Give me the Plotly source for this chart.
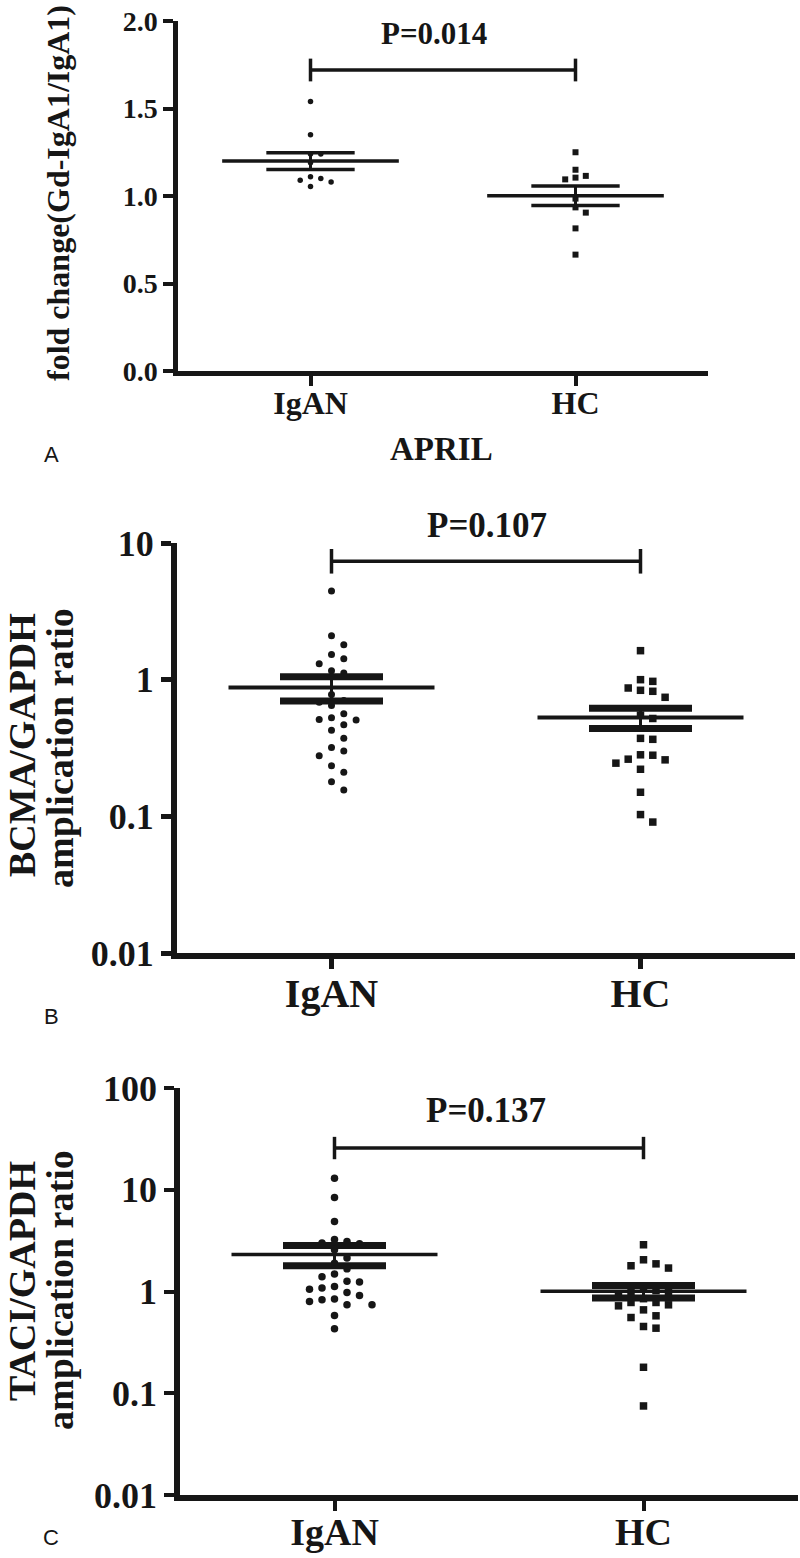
import numpy as np
import plotly.graph_objects as go

W, H = 800, 1558
groups = ["IgAN", "HC"]

# ---- data ----
a_igan = [1.54, 1.35, 1.24, 1.24, 1.19, 1.11, 1.09, 1.08, 1.055, 1.10]
a_hc = [1.25, 1.15, 1.115, 1.105, 1.095, 0.985, 0.935, 0.905, 0.815, 0.665]
b_igan = [4.46, 2.10, 1.80, 1.53, 1.42, 1.31, 1.16, 1.12, 0.778, 0.684, 0.647, 0.703,
          0.563, 0.512, 0.468, 0.506, 0.526, 0.426, 0.372, 0.319, 0.301, 0.277, 0.234,
          0.210, 0.179, 0.156]
b_hc = [1.63, 0.972, 1.0, 0.869, 0.822, 0.836, 0.743, 0.520, 0.55, 0.366, 0.372, 0.280,
        0.259, 0.282, 0.245, 0.262, 0.221, 0.150, 0.103, 0.0908]
c_igan = [13.0, 8.4, 4.88, 3.0, 2.95, 3.1, 3.25, 2.57, 2.13, 1.90, 1.67, 1.49, 1.40, 1.26,
          1.24, 1.12, 1.08, 1.05, 0.977, 0.914, 0.842, 0.798, 0.828, 0.74, 0.74, 0.581, 0.43]
c_hc = [2.88, 2.05, 1.79, 1.70, 1.87, 0.78, 0.723, 0.74, 0.78, 0.66, 0.555, 0.577, 0.436,
        0.453, 0.18, 0.075, 1.0, 1.02, 0.98, 0.85, 0.9, 1.1]

p_labels = ["P=0.014", "P=0.107", "P=0.137"]
bracket_levels = [1.72, 7.35, 25.7]
a_ticks = [0.0, 0.5, 1.0, 1.5, 2.0]
a_ticktext = ["0.0", "0.5", "1.0", "1.5", "2.0"]
b_ticks = [0.01, 0.1, 1, 10]
b_ticktext = ["0.01", "0.1", "1", "10"]
c_ticks = [0.01, 0.1, 1, 10, 100]
c_ticktext = ["0.01", "0.1", "1", "10", "100"]
y_titles = [["fold change(Gd-IgA1/IgA1)"],
            ["BCMA/GAPDH", "amplication ratio"],
            ["TACI/GAPDH", "amplication ratio"]]
panel_letters = ["A", "B", "C"]
x_title_a = "APRIL"

INK = "#161616"
SERIF = "Liberation Serif"

# ---- layout geometry (pixels) ----
panels = [
    dict(data=(a_igan, a_hc), log=False, yr=(0, 2), ticks=a_ticks, ticktext=a_ticktext,
         xpx=(178, 708), ypx=(21, 371), tickfs=28, catfs=32, axw=4.5, msize=(5.5, 6),
         meanw=3.5, semw=3.5, step=10.3, thr=7.5, brk=0.065, pfs=31, ppos=(434, 34),
         titlefs=32, titlepos=[(58, 193)], letter=(51, 455), xstand=-10),
    dict(data=(b_igan, b_hc), log=True, yr=(-2, 1), ticks=b_ticks, ticktext=b_ticktext,
         xpx=(177, 795), ypx=(543, 953), tickfs=36, catfs=40, axw=6, msize=(7, 7.5),
         meanw=4, semw=7, step=12.3, thr=9.5, brk=0.09, pfs=35, ppos=(487, 526),
         titlefs=38, titlepos=[(22, 745), (60, 748)], letter=(51, 1017), xstand=-10),
    dict(data=(c_igan, c_hc), log=True, yr=(-2, 2), ticks=c_ticks, ticktext=c_ticktext,
         xpx=(180, 798), ypx=(1088, 1495), tickfs=36, catfs=38, axw=5.5, msize=(7.5, 7.5),
         meanw=3.5, semw=7, step=12.5, thr=9.5, brk=0.11, pfs=35, ppos=(486, 1110),
         titlefs=38, titlepos=[(22, 1281), (60, 1290)], letter=(51, 1537), xstand=-11),
]


def swarm(vals, to_px, step, thr):
    order = sorted(range(len(vals)), key=lambda i: -vals[i])
    placed = []
    offs = [0.0] * len(vals)
    cands = [0]
    for j in range(1, 12):
        cands += [j, -j]
    for i in order:
        y = to_px(vals[i])
        for c in cands:
            if all(not (pc == c and abs(y - py) < thr) and
                   ((c - pc) * step) ** 2 + (y - py) ** 2 >= (thr * 0.95) ** 2
                   for pc, py in placed):
                break
        placed.append((c, y))
        offs[i] = c * step
    return offs


fig = go.Figure()
annotations = []

for k, p in enumerate(panels):
    sfx = "" if k == 0 else str(k + 1)
    xa, ya = "x" + sfx, "y" + sfx
    x0, x1 = p["xpx"]
    ytop, ybot = p["ypx"]
    ppu = (x1 - x0) / 2.0  # x range 0.5 .. 2.5
    r0, r1 = p["yr"]

    def to_px(v, r0=r0, r1=r1, ytop=ytop, ybot=ybot, lg=p["log"]):
        t = np.log10(v) if lg else v
        return ybot - (t - r0) / (r1 - r0) * (ybot - ytop)

    for g, vals in enumerate(p["data"]):
        c = g + 1
        offs = swarm(vals, to_px, p["step"], p["thr"])
        fig.add_trace(go.Scatter(
            x=[c + o / ppu for o in offs], y=vals, mode="markers", xaxis=xa, yaxis=ya,
            marker=dict(symbol="circle" if g == 0 else "square", size=p["msize"][g],
                        color=INK, line=dict(width=0)),
            showlegend=False, hoverinfo="y"))
    for g, vals in enumerate(p["data"]):
        c = g + 1
        m = float(np.mean(vals))
        s = float(np.std(vals, ddof=1) / np.sqrt(len(vals)))
        fig.add_trace(go.Scatter(x=[c - 1 / 3, c + 1 / 3], y=[m, m], mode="lines",
                                 xaxis=xa, yaxis=ya, line=dict(color=INK, width=p["meanw"]),
                                 showlegend=False, hoverinfo="skip"))
        fig.add_trace(go.Scatter(x=[c - 1 / 6, c + 1 / 6, None, c - 1 / 6, c + 1 / 6],
                                 y=[m + s, m + s, None, m - s, m - s], mode="lines",
                                 xaxis=xa, yaxis=ya, line=dict(color=INK, width=p["semw"]),
                                 showlegend=False, hoverinfo="skip"))
        fig.add_trace(go.Scatter(x=[c, c], y=[m - s, m + s], mode="lines",
                                 xaxis=xa, yaxis=ya, line=dict(color=INK, width=3),
                                 showlegend=False, hoverinfo="skip"))
    # significance bracket
    lv = bracket_levels[k]
    if p["log"]:
        lo, hi = lv / 10 ** p["brk"], lv * 10 ** p["brk"]
    else:
        lo, hi = lv - p["brk"], lv + p["brk"]
    fig.add_trace(go.Scatter(x=[1, 1, None, 1, 2, None, 2, 2],
                             y=[lo, hi, None, lv, lv, None, lo, hi], mode="lines",
                             xaxis=xa, yaxis=ya, line=dict(color=INK, width=3.5),
                             showlegend=False, hoverinfo="skip"))

    axis_common = dict(showline=True, linecolor=INK, linewidth=p["axw"], ticks="outside",
                       tickcolor=INK, tickwidth=p["axw"] * 0.8, ticklen=10,
                       showgrid=False, zeroline=False, mirror=False, automargin=False)
    fig.update_layout(**{
        ("xaxis" + sfx): dict(domain=[x0 / W, x1 / W], range=[0.5, 2.5], tickvals=[1, 2],
                              ticktext=groups, anchor=ya, ticklabelstandoff=p["xstand"],
                              tickfont=dict(family=SERIF, size=p["catfs"], color=INK,
                                            weight="bold"), **axis_common),
        ("yaxis" + sfx): dict(domain=[1 - ybot / H, 1 - ytop / H],
                              type="log" if p["log"] else "linear",
                              range=[r0, r1], tickvals=p["ticks"], ticktext=p["ticktext"],
                              anchor=xa,
                              tickfont=dict(family=SERIF, size=p["tickfs"], color=INK,
                                            weight="bold"), **axis_common),
    })

    annotations.append(dict(text=p_labels[k], x=p["ppos"][0] / W, y=1 - p["ppos"][1] / H,
                            xref="paper", yref="paper", showarrow=False,
                            xanchor="center", yanchor="middle",
                            font=dict(family=SERIF, size=p["pfs"], color=INK, weight="bold")))
    for line, (tx, ty) in zip(y_titles[k], p["titlepos"]):
        annotations.append(dict(text=line, x=tx / W, y=1 - ty / H, xref="paper",
                                yref="paper", showarrow=False, textangle=-90,
                                xanchor="center", yanchor="middle",
                                font=dict(family=SERIF, size=p["titlefs"], color=INK,
                                          weight="bold")))
    annotations.append(dict(text=panel_letters[k], x=p["letter"][0] / W,
                            y=1 - p["letter"][1] / H, xref="paper", yref="paper",
                            showarrow=False, xanchor="center", yanchor="middle",
                            font=dict(family="Liberation Sans", size=22, color=INK)))

annotations.append(dict(text=x_title_a, x=441 / W, y=1 - 449 / H, xref="paper",
                        yref="paper", showarrow=False, xanchor="center", yanchor="middle",
                        font=dict(family=SERIF, size=33, color=INK, weight="bold")))

fig.update_layout(width=W, height=H, margin=dict(l=0, r=0, t=0, b=0, autoexpand=False),
                  paper_bgcolor="white", plot_bgcolor="white",
                  annotations=annotations, showlegend=False)

fig.write_html("out.html", config={"displayModeBar": False},
               post_script="document.body.style.margin='0';"
                           "document.body.style.overflow='hidden';")
